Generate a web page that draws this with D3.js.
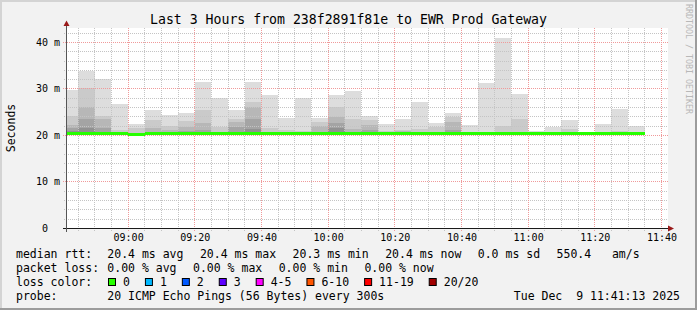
<!DOCTYPE html>
<html>
<head>
<meta charset="utf-8">
<script src="https://cdn.jsdelivr.net/npm/d3@7"></script>
<style>
  body { margin: 0; background: #f2f2f2; }
  svg text { font-family: "DejaVu Sans Mono", monospace; white-space: pre; }
</style>
</head>
<body>
<svg id="chart" width="697" height="310"></svg>
<script>
// 5 minute slots (start time of each)
const slotStart = ["08:40","08:45","08:50","08:55","09:00","09:05","09:10","09:15","09:20","09:25",
  "09:30","09:35","09:40","09:45","09:50","09:55","10:00","10:05","10:10","10:15",
  "10:20","10:25","10:30","10:35","10:40","10:45","10:50","10:55","11:00","11:05",
  "11:10","11:15","11:20","11:25","11:30"];

// median rtt per slot, ms
const medianRtt = [20.4,20.5,20.5,20.5,20.3,20.4,20.4,20.4,20.5,20.5,
  20.4,20.5,20.4,20.4,20.4,20.4,20.4,20.4,20.4,20.4,
  20.4,20.4,20.4,20.4,20.4,20.4,20.4,20.4,20.4,20.4,
  20.4,20.4,20.4,20.4,20.4];

// lost pings per slot (out of 20)
const lostPings = [0,0,0,0,0,0,0,0,0,0,0,0,0,0,0,0,0,0,0,0,0,0,0,0,0,0,0,0,0,0,0,0,0,0,0];

// fastest ping per slot, ms
const minRtt = [20.2,20.2,20.2,20.2,20.2,20.2,20.2,20.2,20.2,20.2,20.2,20.2,20.2,20.2,20.2,20.2,20.2,20.2,
  20.2,20.2,20.2,20.2,20.2,20.2,20.2,20.2,20.2,20.2,20.2,20.2,20.2,20.2,20.2,20.2,20.2];

// upper pings per slot, slowest first (ms) -> smoke layers
const smoke = [
  [29.8, 24.1, 22.2, 21.7, 20.9],
  [33.9, 30.1, 26.1, 23.6, 21.6],
  [32.1, 24.2, 23.6, 21.6],
  [26.8, 21.2],
  [22.5, 21.6],
  [25.5, 23.4, 21.6],
  [24.3, 22.0, 21.2],
  [24.8, 23.2, 21.8, 20.9],
  [31.5, 25.5, 22.7, 21.2],
  [28.1, 21.8],
  [25.5, 23.6, 22.8, 21.8],
  [31.5, 27.2, 26.2, 23.5, 21.5],
  [28.6, 21.6],
  [23.8, 21.2],
  [28.1, 21.0],
  [23.8, 22.8, 22.0],
  [28.6, 26.1, 23.9, 22.7, 21.6],
  [29.6, 23.6, 21.5],
  [24.2, 23.4, 22.3, 21.2],
  [22.5, 20.9],
  [23.6, 21.2, 20.9],
  [27.2, 21.4],
  [22.7, 21.8],
  [24.8, 24.0, 22.9, 21.2],
  [22.2],
  [31.3, 20.8],
  [41.0, 22.0],
  [28.9, 23.6],
  [21.0],
  [21.9],
  [23.3, 21.5],
  [],
  [22.5],
  [25.8, 21.0],
  [22.0]
];

const yTicks = [0, 10, 20, 30, 40];
const yTickLabels = ["0  ", "10 m", "20 m", "30 m", "40 m"];

const lossLabels = ["0", "1", "2", "3", "4-5", "6-10", "11-19", "20/20"];
const lossColors = ["#26ff00", "#00b8ff", "#0059ff", "#5e00ff", "#ff00ff", "#ff5500", "#ff0000", "#a10000"];
const lossLimits = [0, 1, 2, 3, 5, 10, 19, 20];

const rttStats = [["avg", 20.4], ["max", 20.4], ["min", 20.3], ["now", 20.4]];
const rttSd = 0.0, rttAmps = 550.4;
const lossStats = [["avg", 0.00], ["max", 0.00], ["min", 0.00], ["now", 0.00]];

const day = "2025-12-09T";
const parse = t => new Date(day + t + ":00");

const plotL = 67, plotR = 667, plotT = 28, plotB = 228.5;

const x = d3.scaleTime()
  .domain([new Date(day + "08:41:40"), new Date(day + "11:41:40")])
  .range([plotL, plotR]);
const y = d3.scaleLinear().domain([0, 43]).range([plotB, plotT + 0.5]);

const svg = d3.select("#chart");

// background + 3d frame
svg.append("rect").attr("width", 697).attr("height", 310).attr("fill", "#f2f2f2");
svg.append("rect").attr("x", 0).attr("y", 0).attr("width", 697).attr("height", 2).attr("fill", "#d4d4d4");
svg.append("rect").attr("x", 0).attr("y", 0).attr("width", 2).attr("height", 310).attr("fill", "#d4d4d4");
svg.append("rect").attr("x", 0).attr("y", 308).attr("width", 697).attr("height", 2).attr("fill", "#9c9c9c");
svg.append("rect").attr("x", 695).attr("y", 0).attr("width", 2).attr("height", 310).attr("fill", "#9c9c9c");

// canvas
svg.append("rect").attr("x", plotL).attr("y", plotT)
  .attr("width", plotR - plotL + 1).attr("height", plotB - plotT).attr("fill", "#fff");

// smoke
const gray = i => { const v = Math.round(221 - 19 * i); return `rgb(${v},${v},${v})`; };
const slots = slotStart.map((t, k) => {
  const s = parse(t);
  return {
    x0: Math.max(Math.round(x(s)), plotL),
    x1: Math.round(x(d3.timeMinute.offset(s, 5))),
    k
  };
});

const smokeG = svg.append("g").attr("shape-rendering", "crispEdges");
smokeG.selectAll("g")
  .data(slots)
  .join("g")
  .each(function(s) {
    d3.select(this).selectAll("rect")
      .data(smoke[s.k])
      .join("rect")
      .attr("x", s.x0)
      .attr("width", s.x1 - s.x0)
      .attr("y", d => Math.round(y(d)))
      .attr("height", d => Math.round(y(minRtt[s.k])) - Math.round(y(d)))
      .attr("fill", (d, i) => gray(i));
  });

// grid
const minorT = d3.timeMinute.every(5).range(x.domain()[0], x.domain()[1]);
const majorT = minorT.filter(d => d.getMinutes() % 20 === 0);
const minorV = d3.range(2, 43, 2).filter(v => v % 10 !== 0);
const majorV = [10, 20, 30, 40];
const px = v => Math.round(v) + 0.5;

const grid = svg.append("g").attr("stroke-width", 1).attr("fill", "none");
grid.selectAll("line.vmin")
  .data(minorT.filter(d => d.getMinutes() % 20 !== 0))
  .join("line")
  .attr("x1", d => px(x(d) - 0.5)).attr("x2", d => px(x(d) - 0.5))
  .attr("y1", plotT).attr("y2", 231)
  .attr("stroke", "#c4c4c4").attr("stroke-dasharray", "1,1");
grid.selectAll("line.hmin")
  .data(minorV)
  .join("line")
  .attr("y1", d => px(y(d) - 0.5)).attr("y2", d => px(y(d) - 0.5))
  .attr("x1", 64).attr("x2", plotR + 1)
  .attr("stroke", "#c4c4c4").attr("stroke-dasharray", "1,1");
grid.selectAll("line.vmaj")
  .data(majorT)
  .join("line")
  .attr("x1", d => px(x(d) - 0.5)).attr("x2", d => px(x(d) - 0.5))
  .attr("y1", plotT).attr("y2", 232)
  .attr("stroke", "#f09a9a").attr("stroke-dasharray", "1,1");
grid.selectAll("line.hmaj")
  .data(majorV)
  .join("line")
  .attr("y1", d => px(y(d) - 0.5)).attr("y2", d => px(y(d) - 0.5))
  .attr("x1", 63).attr("x2", plotR + 1)
  .attr("stroke", "#f09a9a").attr("stroke-dasharray", "1,1");

// median line coloured by loss
const lossColor = n => lossColors[lossLimits.findIndex(l => n <= l)];
svg.append("g").attr("shape-rendering", "crispEdges")
  .selectAll("rect")
  .data(slots)
  .join("rect")
  .attr("x", s => s.x0)
  .attr("width", s => s.x1 - s.x0)
  .attr("y", s => Math.round(y(medianRtt[s.k]) - 1.5))
  .attr("height", 3)
  .attr("fill", s => lossColor(lostPings[s.k]));

// axes
svg.append("line").attr("x1", 63).attr("x2", 670).attr("y1", 228.5).attr("y2", 228.5)
  .attr("stroke", "#1a1a1a");
svg.append("line").attr("x1", 66.5).attr("x2", 66.5).attr("y1", 232).attr("y2", 24)
  .attr("stroke", "#555");
svg.append("path").attr("d", "M668,225.5L674,228.5L668,231.5Z").attr("fill", "#9a1a1a");
svg.append("path").attr("d", "M63.5,26L66.5,20.5L69.5,26Z").attr("fill", "#9a1a1a");

// tick labels
svg.append("g").selectAll("text")
  .data(yTicks)
  .join("text")
  .attr("x", 60).attr("y", d => y(d) + 3.5)
  .attr("text-anchor", "end")
  .attr("font-size", "10px")
  .text((d, i) => yTickLabels[i]);

svg.append("g").selectAll("text")
  .data(majorT)
  .join("text")
  .attr("x", d => x(d) + 0.5).attr("y", 241)
  .attr("text-anchor", "middle")
  .attr("font-size", "10px")
  .text(d3.timeFormat("%H:%M"));

// title, unit, watermark
svg.append("text").attr("x", 348.5).attr("y", 24).attr("text-anchor", "middle")
  .attr("font-size", "13.2px").text("Last 3 Hours from 238f2891f81e to EWR Prod Gateway");
svg.append("text").attr("transform", "translate(15,128) rotate(-90)").attr("text-anchor", "middle")
  .attr("font-size", "11.5px").text("Seconds");
svg.append("text").attr("transform", "translate(685.5,4) rotate(90)")
  .attr("font-size", "8.3px").attr("fill", "#b8b8b8").text("RRDTOOL / TOBI OETIKER");

// legend
const lg = svg.append("g").attr("font-size", "11.5px");
const cw = 6.92, gap = 16.5, col = 107.3;
const lineY = [257.8, 271.7, 285.6, 299.5];

function flow(items, yy) {
  let cx = col;
  items.forEach(t => {
    lg.append("text").attr("x", cx).attr("y", yy).text(t);
    cx += t.length * cw + gap;
  });
}
lg.append("text").attr("x", 16).attr("y", lineY[0]).text("median rtt:");
flow(rttStats.map(([k, v]) => `${v.toFixed(1)} ms ${k}`)
  .concat([`${rttSd.toFixed(1)} ms sd`, `${rttAmps.toFixed(1)}   am/s`]), lineY[0]);

lg.append("text").attr("x", 16).attr("y", lineY[1]).text("packet loss:");
flow(lossStats.map(([k, v]) => `${v.toFixed(2)} % ${k}`), lineY[1]);

lg.append("text").attr("x", 16).attr("y", lineY[2]).text("loss color:");
let bx = 108;
lossLabels.forEach((lab, i) => {
  lg.append("rect").attr("x", bx + 0.5).attr("y", 278.5).attr("width", 7).attr("height", 7)
    .attr("fill", lossColors[i]).attr("stroke", "#000");
  lg.append("text").attr("x", bx + 15).attr("y", lineY[2]).text(lab);
  bx += 15 + lab.length * cw + 15;
});

lg.append("text").attr("x", 16).attr("y", lineY[3]).text("probe:");
lg.append("text").attr("x", col).attr("y", lineY[3]).text("20 ICMP Echo Pings (56 Bytes) every 300s");
lg.append("text").attr("x", 680).attr("y", lineY[3]).attr("text-anchor", "end")
  .text("Tue Dec  9 11:41:13 2025");
</script>
</body>
</html>
